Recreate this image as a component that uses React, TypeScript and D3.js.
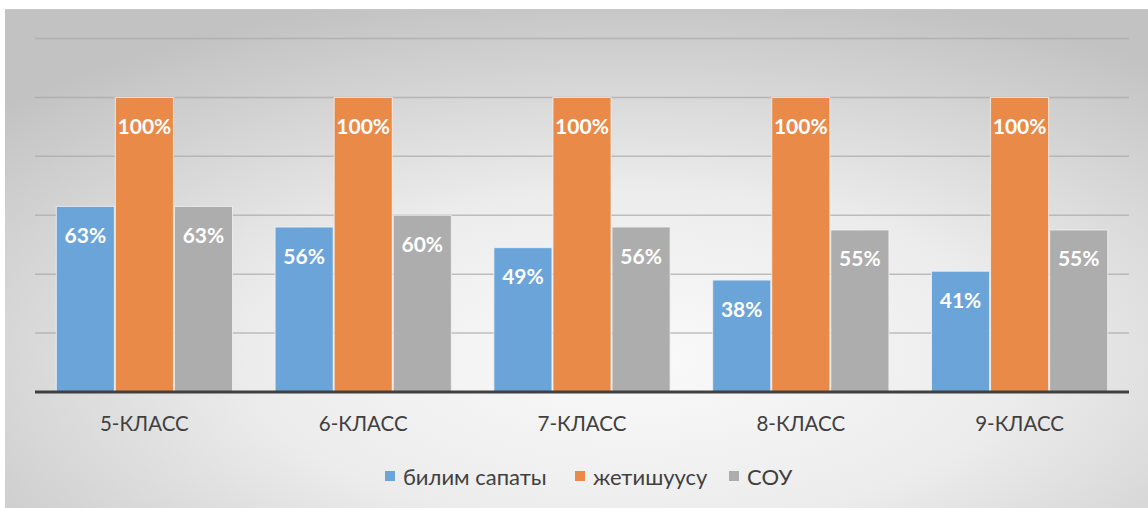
import React from "react";
import * as d3 from "d3";

const categories = ["5-КЛАСС", "6-КЛАСС", "7-КЛАСС", "8-КЛАСС", "9-КЛАСС"];
const seriesNames = ["билим сапаты", "жетишуусу", "СОУ"];
const bilim = [63, 56, 49, 38, 41];
const jetish = [100, 100, 100, 100, 100];
const sou = [63, 60, 56, 55, 55];
const gridTicks = [0, 20, 40, 60, 80, 100, 120];
const colors = ["#6ba4d8", "#e98a49", "#adadad"];

const W = 1148;
const H = 508;
const plot = { left: 35, right: 1129, top: 38.5, bottom: 392 };

export default function App() {
  const series = [bilim, jetish, sou];
  const x0 = d3.scaleBand<string>().domain(categories).range([plot.left, plot.right]).paddingInner(0.19).paddingOuter(0.095);
  const x1 = d3.scaleBand<number>().domain([0, 1, 2]).range([0, x0.bandwidth()]).padding(0);
  const y = d3.scaleLinear().domain([0, 120]).range([plot.bottom, plot.top]);
  const font = "Lato, 'Open Sans', sans-serif";
  const legendItems = [
    { x: 385, name: seriesNames[0], c: colors[0] },
    { x: 575, name: seriesNames[1], c: colors[1] },
    { x: 729, name: seriesNames[2], c: colors[2] },
  ];
  return (
    <svg width={W} height={H} style={{ position: "absolute", left: 0, top: 0 }}>
      <defs>
        <radialGradient id="bg" cx="0.55" cy="0.7" r="0.75" gradientUnits="objectBoundingBox">
          <stop offset="0" stopColor="#fafafa" />
          <stop offset="0.45" stopColor="#ececec" />
          <stop offset="1" stopColor="#c2c2c2" />
        </radialGradient>
      </defs>
      <rect x={0} y={0} width={W} height={H} fill="#ffffff" />
      <rect x={5} y={9} width={W - 5} height={H - 9} fill="url(#bg)" />
      <line x1={5} x2={W} y1={9.5} y2={9.5} stroke="#c8c8c8" strokeWidth={1} />
      {gridTicks.filter((t) => t > 0).map((t) => (
        <line key={t} x1={plot.left} x2={plot.right} y1={y(t)} y2={y(t)} stroke="#a8a8a8" strokeOpacity={0.7} strokeWidth={1.5} />
      ))}
      {categories.map((c, i) => (
        <g key={c}>
          {series.map((s, j) => {
            const bx = (x0(c) as number) + (x1(j) as number);
            const bw = x1.bandwidth();
            return (
              <g key={j}>
                <rect x={bx + 0.5} y={y(s[i])} width={bw - 1} height={plot.bottom - y(s[i])} fill={colors[j]} stroke="#f2f2f2" strokeOpacity={0.8} strokeWidth={1} />
                <text x={bx + bw / 2} y={y(s[i]) + 28} textAnchor="middle" dominantBaseline="central" fill="#ffffff" fontFamily={font} fontWeight={700} fontSize={21}>
                  {s[i]}%
                </text>
              </g>
            );
          })}
          <text x={(x0(c) as number) + x0.bandwidth() / 2} y={423} textAnchor="middle" dominantBaseline="central" fill="#404040" fontFamily={font} fontSize={20.5}>
            {c}
          </text>
        </g>
      ))}
      <line x1={plot.left} x2={plot.right} y1={plot.bottom} y2={plot.bottom} stroke="#404040" strokeWidth={3} />
      {legendItems.map((l) => (
        <g key={l.name}>
          <rect x={l.x} y={471} width={10} height={10} fill={l.c} />
          <text x={l.x + 18} y={476} dominantBaseline="central" fill="#404040" fontFamily={font} fontSize={22}>
            {l.name}
          </text>
        </g>
      ))}
    </svg>
  );
}
